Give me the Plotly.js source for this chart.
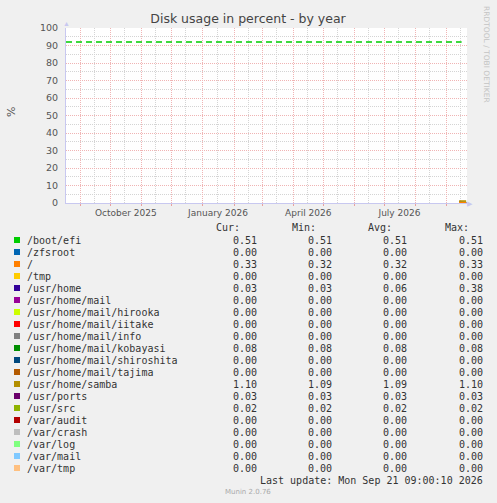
<!DOCTYPE html>
<html>
<head>
<meta charset="utf-8">
<script src="https://cdn.plot.ly/plotly-3.0.1.min.js"></script>
<style>
  html, body { margin: 0; padding: 0; background: #F0F0F0; }
  #chart { width: 497px; height: 503px; }
</style>
</head>
<body>
<div id="chart"></div>
<script>
// disk usage by year, munin style
var names = ['/boot/efi', '/zfsroot', '/', '/tmp', '/usr/home', '/usr/home/mail',
  '/usr/home/mail/hirooka', '/usr/home/mail/iitake', '/usr/home/mail/info',
  '/usr/home/mail/kobayasi', '/usr/home/mail/shiroshita', '/usr/home/mail/tajima',
  '/usr/home/samba', '/usr/ports', '/usr/src', '/var/audit', '/var/crash',
  '/var/log', '/var/mail', '/var/tmp'];
var colors = ['#00CC00', '#0066B3', '#FF8000', '#FFCC00', '#330099', '#990099',
  '#CCFF00', '#FF0000', '#808080', '#008F00', '#00487D', '#B35A00',
  '#B38F00', '#6B006B', '#8FB300', '#B30000', '#BEBEBE', '#80FF80',
  '#80C9FF', '#FFC080'];
var cur = [0.51, 0.00, 0.33, 0.00, 0.03, 0.00, 0.00, 0.00, 0.00, 0.08, 0.00, 0.00, 1.10, 0.03, 0.02, 0.00, 0.00, 0.00, 0.00, 0.00];
var min = [0.51, 0.00, 0.32, 0.00, 0.03, 0.00, 0.00, 0.00, 0.00, 0.08, 0.00, 0.00, 1.09, 0.03, 0.02, 0.00, 0.00, 0.00, 0.00, 0.00];
var avg = [0.51, 0.00, 0.32, 0.00, 0.06, 0.00, 0.00, 0.00, 0.00, 0.08, 0.00, 0.00, 1.09, 0.03, 0.02, 0.00, 0.00, 0.00, 0.00, 0.00];
var max = [0.51, 0.00, 0.33, 0.00, 0.38, 0.00, 0.00, 0.00, 0.00, 0.08, 0.00, 0.00, 1.10, 0.03, 0.02, 0.00, 0.00, 0.00, 0.00, 0.00];

// the few samples that exist, at the very end of the year window
var times = ['2026-09-13 12:00', '2026-09-17 00:00', '2026-09-20 12:00'];
var series = [
  [0.51, 0.51, 0.51], [0, 0, 0], [0.32, 0.32, 0.33], [0, 0, 0],
  [0.38, 0.03, 0.03], [0, 0, 0], [0, 0, 0], [0, 0, 0], [0, 0, 0],
  [0.08, 0.08, 0.08], [0, 0, 0], [0, 0, 0], [1.09, 1.09, 1.10],
  [0.03, 0.03, 0.03], [0.02, 0.02, 0.02], [0, 0, 0], [0, 0, 0],
  [0, 0, 0], [0, 0, 0], [0, 0, 0]
];
var warnTimes = ['2025-08-17 09:00', '2026-09-16 00:00'];
var warnValues = [92, 92];

var xRange = ['2025-08-17 09:00', '2026-09-21 09:00'];
var monthStarts = ['2025-09-01', '2025-10-01', '2025-11-01', '2025-12-01', '2026-01-01',
  '2026-02-01', '2026-03-01', '2026-04-01', '2026-05-01', '2026-06-01', '2026-07-01',
  '2026-08-01', '2026-09-01'];
var midMonths = ['2025-09-15', '2025-10-15', '2025-11-15', '2025-12-15', '2026-01-15',
  '2026-02-15', '2026-03-15', '2026-04-15', '2026-05-15', '2026-06-15', '2026-07-15',
  '2026-08-15', '2026-09-15'];
var labelDates = ['2025-10-16', '2026-01-16', '2026-04-16', '2026-07-16'];
var labelText = ['October 2025', 'January 2026', 'April 2026', 'July 2026'];

// pixel -> paper helpers (plot area is 66..467 x 28..203)
function px(x) { return (x - 66) / 401; }
function py(y) { return (203 - y) / 175; }

var mono = 'DejaVu Sans Mono, monospace';
var sans = 'DejaVu Sans, sans-serif';

// "/" ends up on top in the original render, so draw it last
var order = [];
for (var k = 0; k < names.length; k++) if (k !== 2) order.push(k);
order.push(2);

var traces = [];
order.forEach(function (i) {
  traces.push({
    x: times, y: series[i], type: 'scatter', mode: 'lines',
    line: {color: colors[i], width: 1.5}, hoverinfo: 'skip', showlegend: false
  });
});
traces.push({
  x: warnTimes, y: warnValues, type: 'scatter', mode: 'lines', xaxis: 'x2',
  line: {color: '#00CC00', width: 1.5, dash: '6px,4px'}, hoverinfo: 'skip', showlegend: false
});

var annotations = [];
var shapes = [];
function txt(x, y, s, anchor, font) {
  annotations.push({xref: 'paper', yref: 'paper', x: px(x), y: py(y), text: s,
    showarrow: false, xanchor: anchor, yanchor: 'middle', borderpad: 0, font: font});
}
var legFont = {family: mono, size: 10, color: '#333'};

var headers = ['Cur:', 'Min:', 'Avg:', 'Max:'];
var headerX = [241, 317, 393, 470];
var colX = [258, 333, 408, 484];
for (var h = 0; h < headers.length; h++) txt(headerX[h], 227, headers[h], 'right', legFont);

for (var r = 0; r < names.length; r++) {
  var yc = 240 + 12 * r;
  shapes.push({type: 'rect', xref: 'paper', yref: 'paper', x0: px(14), x1: px(20),
    y0: py(yc + 3), y1: py(yc - 3), fillcolor: colors[r], line: {width: 0}});
  txt(26, yc, names[r], 'left', legFont);
  var vals = [cur[r], min[r], avg[r], max[r]];
  for (var c = 0; c < 4; c++) txt(colX[c], yc, vals[c].toFixed(2), 'right', legFont);
}
txt(484, 480, 'Last update: Mon Sep 21 09:00:10 2026', 'right', legFont);
txt(248, 492, 'Munin 2.0.76', 'center', {family: sans, size: 7, color: '#AAAAAA'});

// y label and rrdtool watermark
annotations.push({xref: 'paper', yref: 'paper', x: px(11), y: py(112), text: '%',
  textangle: -90, showarrow: false, xanchor: 'center', yanchor: 'middle',
  font: {family: sans, size: 11, color: '#555'}});
annotations.push({xref: 'paper', yref: 'paper', x: px(487), y: py(54),
  text: 'RRDTOOL / TOBI OETIKER', textangle: 90, showarrow: false,
  xanchor: 'center', yanchor: 'middle', font: {family: sans, size: 7.5, color: '#C4C4C4'}});
// axis arrows
annotations.push({xref: 'paper', yref: 'paper', x: px(66), y: py(24), text: '▲',
  showarrow: false, xanchor: 'center', yanchor: 'middle', font: {size: 7, color: '#C8C8F0'}});
annotations.push({xref: 'paper', yref: 'paper', x: px(470), y: py(203), text: '▶',
  showarrow: false, xanchor: 'center', yanchor: 'middle', font: {size: 7, color: '#C8C8F0'}});

var layout = {
  width: 497, height: 503,
  margin: {l: 66, r: 30, t: 28, b: 300, pad: 0},
  paper_bgcolor: '#F0F0F0', plot_bgcolor: '#FFFFFF',
  title: {text: 'Disk usage in percent - by year', x: 0.499, xref: 'container',
    y: 1 - 19 / 503, yref: 'container', yanchor: 'middle', xanchor: 'center',
    font: {family: sans, size: 12.5, color: '#444'}},
  xaxis: {
    type: 'date', range: xRange, tickmode: 'array', tickvals: monthStarts,
    ticktext: monthStarts.map(function () { return ''; }),
    showgrid: true, gridcolor: '#F0B4B4', griddash: '1px,1px', gridwidth: 1,
    ticks: 'outside', ticklen: 2, tickcolor: '#E8A0A0',
    minor: {tickmode: 'array', tickvals: midMonths, showgrid: true,
      gridcolor: '#D4D4D4', griddash: '1px,1px', ticks: ''},
    showline: true, linecolor: '#C8C8F0', linewidth: 1, zeroline: false, fixedrange: true
  },
  xaxis2: {
    type: 'date', range: xRange, overlaying: 'x', anchor: 'y', side: 'bottom',
    tickmode: 'array', tickvals: labelDates, ticktext: labelText,
    showgrid: false, ticks: '', zeroline: false, showline: false,
    tickfont: {family: sans, size: 9, color: '#555'}, ticklabelstandoff: 3
  },
  yaxis: {
    range: [0, 100], tickmode: 'array', tickvals: [0, 10, 20, 30, 40, 50, 60, 70, 80, 90, 100],
    showgrid: true, gridcolor: '#F0B4B4', griddash: '1px,1px', gridwidth: 1,
    minor: {tickmode: 'array', tickvals: [5, 15, 25, 35, 45, 55, 65, 75, 85, 95],
      showgrid: true, gridcolor: '#D4D4D4', griddash: '1px,1px', ticks: ''},
    ticks: '', showline: true, linecolor: '#C8C8F0', linewidth: 1, zeroline: false,
    tickfont: {family: sans, size: 9.5, color: '#555'}, ticklabelstandoff: 5, fixedrange: true
  },
  annotations: annotations,
  shapes: shapes,
  showlegend: false
};

Plotly.newPlot('chart', traces, layout, {displayModeBar: false, staticPlot: true});
</script>
</body>
</html>
